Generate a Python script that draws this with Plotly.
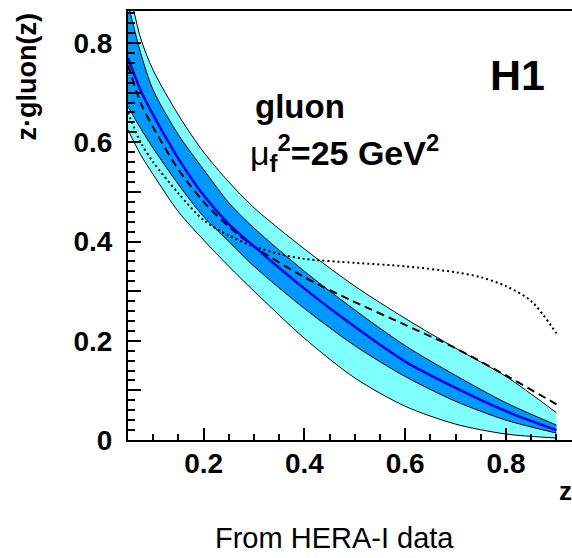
import plotly.graph_objects as go

# ---- data ----
z = [0.05, 0.075, 0.1, 0.15, 0.2, 0.25, 0.3, 0.4, 0.5, 0.6, 0.7, 0.8, 0.9]
central = [0.77, 0.705, 0.655, 0.567, 0.493, 0.435, 0.39, 0.305, 0.228, 0.158, 0.105, 0.058, 0.02]
outer_up = [0.92, 0.81, 0.745, 0.655, 0.58, 0.52, 0.468, 0.385, 0.31, 0.245, 0.185, 0.128, 0.055]
inner_up = [0.88, 0.78, 0.705, 0.615, 0.545, 0.478, 0.427, 0.34, 0.262, 0.19, 0.13, 0.075, 0.03]
inner_lo = [0.672, 0.628, 0.588, 0.515, 0.45, 0.40, 0.35, 0.265, 0.19, 0.128, 0.078, 0.04, 0.014]
outer_lo = [0.625, 0.575, 0.535, 0.46, 0.403, 0.35, 0.30, 0.205, 0.125, 0.068, 0.032, 0.012, 0.004]
dashed = [0.755, 0.68, 0.63, 0.545, 0.48, 0.43, 0.39, 0.328, 0.278, 0.232, 0.185, 0.13, 0.072]

z_dot = [0.05, 0.075, 0.1, 0.15, 0.2, 0.25, 0.3, 0.35, 0.4, 0.5, 0.6, 0.7, 0.75, 0.8, 0.85, 0.9]
dotted = [0.66, 0.60, 0.56, 0.497, 0.443, 0.412, 0.39, 0.375, 0.365, 0.357, 0.35, 0.338, 0.328, 0.31, 0.28, 0.215]

y_tickvals = [0, 0.1, 0.2, 0.3, 0.4, 0.5, 0.6, 0.7, 0.8]
y_ticktext = ["0", "", "0.2", "", "0.4", "", "0.6", "", "0.8"]

FONT = "Liberation Sans, Arial, Helvetica, sans-serif"
CYAN = "rgb(128,255,255)"
AZURE = "rgb(0,153,255)"
BLUE = "rgb(0,0,235)"

fig = go.Figure()
sp = dict(shape="spline", smoothing=0.8)

fig.add_trace(go.Scatter(x=z, y=outer_lo, mode="lines", line=dict(color="black", width=1, **sp), showlegend=False))
fig.add_trace(go.Scatter(x=z, y=outer_up, mode="lines", fill="tonexty", fillcolor=CYAN,
                         line=dict(color="black", width=1, **sp), showlegend=False))
fig.add_trace(go.Scatter(x=z, y=inner_lo, mode="lines", line=dict(color="black", width=1, **sp), showlegend=False))
fig.add_trace(go.Scatter(x=z, y=inner_up, mode="lines", fill="tonexty", fillcolor=AZURE,
                         line=dict(color="black", width=1, **sp), showlegend=False))
fig.add_trace(go.Scatter(x=z_dot, y=dotted, mode="lines",
                         line=dict(color="black", width=2, dash="2px,3px", **sp), showlegend=False))
fig.add_trace(go.Scatter(x=z, y=dashed, mode="lines",
                         line=dict(color="black", width=2, dash="8px,5px", **sp), showlegend=False))
fig.add_trace(go.Scatter(x=z, y=central, mode="lines", line=dict(color=BLUE, width=2.5, **sp), showlegend=False))

fig.update_layout(
    width=572, height=558,
    margin=dict(l=128, r=0, t=11, b=118),
    paper_bgcolor="white", plot_bgcolor="white",
    font=dict(family=FONT, color="black"),
    xaxis=dict(range=[0.05, 0.05 + 444 / 504], showgrid=False, zeroline=False,
               showline=True, linecolor="black", linewidth=2, mirror=True,
               ticks="inside", ticklen=12, tickwidth=2, tickcolor="black",
               tick0=0, dtick=0.2, tickformat=".1f",
               tickfont=dict(family=FONT, size=28, color="black", weight="bold"),
               ticklabelstandoff=-3,
               minor=dict(tick0=0, dtick=0.05, ticks="inside", ticklen=6, tickwidth=2, tickcolor="black")),
    yaxis=dict(range=[0, 429 / 496.25], showgrid=False, zeroline=False,
               showline=True, linecolor="black", linewidth=2,
               ticks="inside", ticklen=13, tickwidth=2, tickcolor="black",
               tickmode="array", tickvals=y_tickvals, ticktext=y_ticktext,
               tickfont=dict(family=FONT, size=28, color="black", weight="bold"),
               ticklabelstandoff=8,
               minor=dict(tickmode="linear", tick0=0, dtick=0.02, ticks="inside", ticklen=7,
                          tickwidth=2, tickcolor="black")),
)

def px_x(p):
    return (p - 128) / 444.0

def px_y(p):
    return (440 - p) / 429.0

ann = [
    dict(text="<b>H1</b>", x=px_x(517), y=px_y(75), font=dict(size=43)),
    dict(text="<b>gluon</b>", x=px_x(253), y=px_y(107), xanchor="left", font=dict(size=33)),
    dict(text="μ<b><sub>f</sub><sup>2</sup>=25 GeV<sup>2</sup></b>", x=px_x(248), y=px_y(153),
         xanchor="left", font=dict(size=34)),
    dict(text="<b>z·gluon(z)</b>", x=px_x(26), y=px_y(12), yanchor="top", textangle=-90,
         font=dict(size=27)),
    dict(text="<b>z</b>", x=px_x(565), y=px_y(491), font=dict(size=26)),
    dict(text="From HERA-I data", x=px_x(334), y=px_y(538), font=dict(size=29)),
]
for a in ann:
    base = dict(xref="paper", yref="paper", showarrow=False, xanchor="center", yanchor="middle")
    base.update(a)
    base["font"] = dict(family=FONT, color="black", **a["font"])
    fig.add_annotation(**base)

fig.write_html("out.html")
